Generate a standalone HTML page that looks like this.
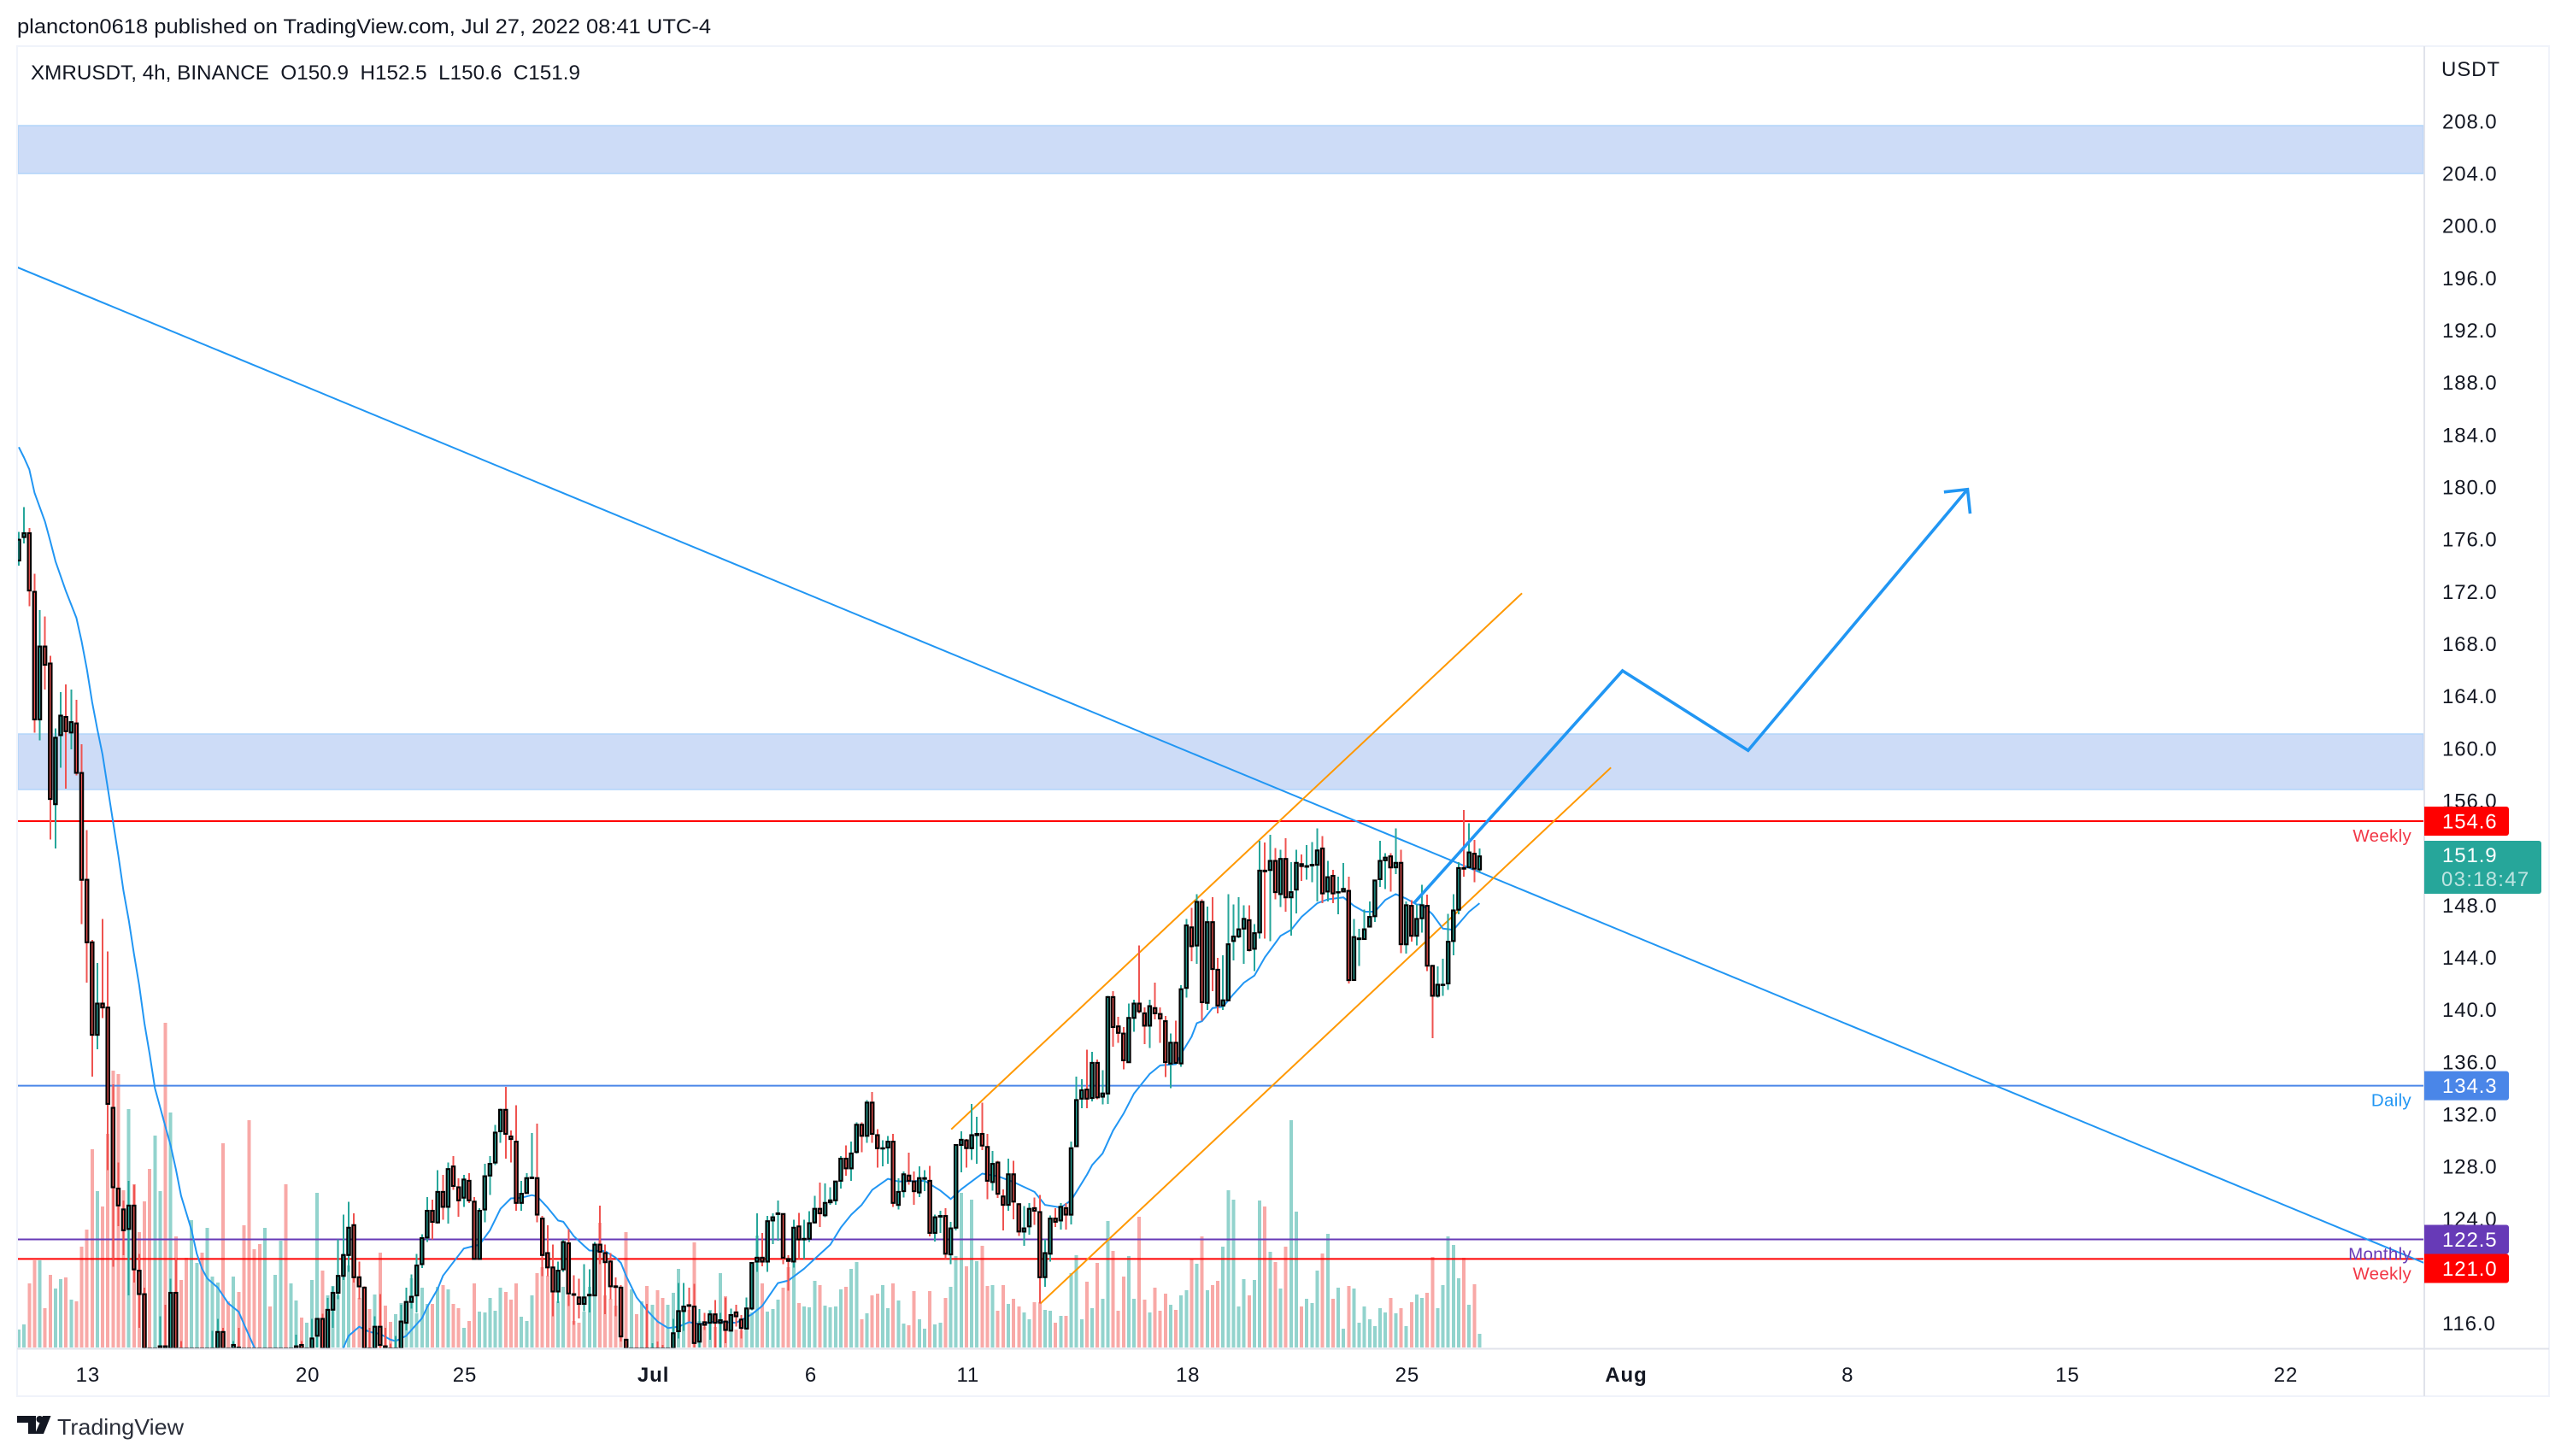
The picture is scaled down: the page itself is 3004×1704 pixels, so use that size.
<!DOCTYPE html>
<html lang="en">
<head>
<meta charset="utf-8">
<title>XMRUSDT 4h chart</title>
<style>
html,body{margin:0;padding:0;background:#fff;}
body{width:3004px;height:1704px;overflow:hidden;}
svg{display:block;font-family:"Liberation Sans",sans-serif;}
.tick{font-size:24px;letter-spacing:.9px;fill:#131722;}
.note{font-size:20.5px;letter-spacing:.3px;}
.chip{font-size:24px;letter-spacing:.9px;fill:#fff;}
</style>
</head>
<body>
<svg id="chart" xmlns="http://www.w3.org/2000/svg" width="3004" height="1704" viewBox="0 0 3004 1704">
  <defs>
    <clipPath id="pane"><rect x="21" y="55" width="2815" height="1523"/></clipPath>
  </defs>
  <rect x="0" y="0" width="3004" height="1704" fill="#ffffff"/>
  <text x="20" y="39" font-size="24" fill="#131722" textLength="812" lengthAdjust="spacingAndGlyphs">plancton0618 published on TradingView.com, Jul 27, 2022 08:41 UTC-4</text>
  <g id="pane-layer" clip-path="url(#pane)"></g>
  <rect x="20" y="54" width="2963" height="1580" fill="none" stroke="#f0f3fa" stroke-width="2"/>
  <line x1="2837" y1="54" x2="2837" y2="1634" stroke="#e0e3eb" stroke-width="2"/>
  <line x1="20" y1="1578.5" x2="2983" y2="1578.5" stroke="#e0e3eb" stroke-width="2"/>
  <text x="36" y="93" font-size="24" fill="#131722" textLength="643" lengthAdjust="spacingAndGlyphs" xml:space="preserve">XMRUSDT, 4h, BINANCE  O150.9  H152.5  L150.6  C151.9</text>
  <text class="tick" x="2857" y="89">USDT</text>
  <g id="price-ticks"></g>
  <g id="time-ticks"></g>
  <g id="level-notes"></g>
  <g id="level-chips"></g>
  <g id="last-price">
    <path d="M2837 984H2971a3 3 0 0 1 3 3V1043a3 3 0 0 1-3 3H2837Z" fill="#26a69a"/>
    <text class="chip" x="2858" y="1009">151.9</text>
    <text class="chip" x="2857" y="1037" fill-opacity="0.7" style="fill:#fff;letter-spacing:1.25px">03:18:47</text>
  </g>
  <g>
    <path d="M20 1657H42V1678H33V1665H20Z" fill="#131722"/>
    <circle cx="46.5" cy="1661" r="4" fill="#131722"/>
    <path d="M50 1657H59.5L51 1678H41Z" fill="#131722"/>
    <text x="67" y="1679" font-size="26" fill="#2a2e39" textLength="148" lengthAdjust="spacingAndGlyphs">TradingView</text>
  </g>
</svg>
<script>
const opens = [
174.6,176.4,176.7,172.2,162.4,168.0,166.7,155.9,161.2,162.6,
161.4,162.1,158.3,150.1,145.3,138.2,140.6,140.3,132.6,126.4,
124.8,123.3,125.1,120.1,118.3,113,110.5,112.5,114.3,112,
118.4,112,109,107,108.5,109.5,108,110,113,115.4,
112,110,114.2,110,107,103,101,100,102.5,101.5,
104,107,104,108,114.4,111,112,115.1,116.4,113,
117.1,118.4,119.7,121.3,123.6,119.6,118.8,113.5,112,115.8,
114.3,113,112,113.5,116.1,117.7,118.2,120.6,122.65,124.7,
123.8,126.15,125.0,128.1,126.5,125.7,127.0,125.4,121.0,124.8,
127.4,128.4,130.8,132.45,130.4,130.0,125.3,126.05,127.2,127.2,
124.1,121.45,120.35,118.5,120.2,122.2,118.3,118.05,117.55,118.2,
118.2,122.1,121.45,120.8,118.9,118.8,114.8,112.5,113.5,112,
113.5,112,113.5,112.5,111.5,113,115.45,117.0,117.45,117.35,
114.65,116.15,116.1,116.75,116.1,116.2,115.5,116.9,116.35,115.65,
117.2,120.8,121.1,120.8,123.95,124.45,124.45,121,120.8,123.5,
122.5,122.55,123.8,124.85,124.35,125.35,125.5,127,128.7,127.95,
129.2,131.3,130.45,133.0,130.5,129.5,129.55,130,125.15,126.2,
127.4,126.95,126.1,127.15,127,123,124.25,124.3,121.35,123.4,
129.75,130.1,129.5,130.5,130.6,129.6,126.9,128.4,125.8,125.15,
127.5,125.2,123.1,123.5,124.9,124.6,119.6,121.4,124.1,123.95,
124.9,124.4,129.65,133.3,134,133.35,136.05,133.45,133.7,141.1,
138.85,138.3,136.1,139.5,140.6,139.85,138.9,140.25,139.8,139.25,
136,137.6,136,141.8,146.45,145.05,148.4,140.65,146.85,143.2,
140.45,140.85,145.4,145.75,146.35,147,144.8,146.05,150.8,150.85,
151.55,149,151.7,148.75,149.35,151.3,151.1,151.2,151.25,152.5,
149.2,150.4,149.15,149.2,149.25,142.4,145.55,145.55,146.5,147.3,
150.15,151.6,151.9,151.05,151.4,145.15,148.1,145.8,147.15,148.1,
143.5,141.2,142.05,142.15,145.4,147.8,151,151.05,152.1,150.9
];
const highs = [
176.8,178.7,177.1,173.6,170.8,170.3,167.3,161.7,164.5,165.1,
164.7,163.9,160.5,153.9,145.5,143.7,147.1,144.6,134.4,128.4,
125.5,127.0,126.7,121.4,118.8,113.5,113.2,116.6,117.5,119.5,
121.1,114.7,110,110,111,110.5,111.5,115.5,116.4,115.7,
113,114.7,115.7,111,108,104,102,103.5,103.5,105,
108,108,110,115.2,114.7,113.5,116.4,116.4,116.8,118,
118.9,122.5,124.4,125.4,124.5,120.8,118.9,115.7,116.6,118.3,
115.7,114.5,115.1,117.5,118.8,119.8,121.4,122.9,125.75,125.55,
127.8,127.45,128.4,128.9,127.2,127.45,127.6,125.75,124.9,128.3,
128.9,131.3,132.55,134.2,130.85,132.8,127,127.6,130.65,131.4,
124.3,123.6,122.1,120.8,122.5,123.3,119.75,119.5,120.6,120.2,
122.3,125.1,122.1,121.45,119.6,119,114.8,114,114,114,
117.55,114.55,114.65,114.4,113.8,116.4,119.15,119.15,118.8,119.1,
117.15,116.85,117,117.85,116.85,118.05,117.2,117.5,116.7,118.05,
120.7,124.5,123,124.3,124.5,125.5,124.5,121.3,124,124.55,
124,124.65,125.85,126.85,126.8,126.5,126.95,128.9,129.7,130,
131.5,131.5,133.2,133.8,130.95,130.1,130.45,130.6,127.2,127.7,
129.15,127.7,128.1,127.8,128.15,124.4,124.7,124.9,123.85,129.75,
130.8,130.2,132.9,131.9,133,130.6,129.3,128.55,126.35,128.7,
128.55,125.3,125.05,125.3,125.7,125.9,122.5,124.35,124.9,125.3,
125.3,130,135,134.8,137.07,136.9,136.3,135.5,141.2,141.55,
139.6,138.8,140.6,140.9,145.05,140.3,140.9,142.2,140.3,139.65,
138.3,139.3,142,147.1,147.95,149,148.6,148.05,148.75,144.1,
144.3,149,148.2,148.75,148.15,148.15,146.7,153.1,152.95,153.55,
152.55,152.4,153.3,151.45,152.4,152.05,152.75,153,154.05,153.45,
151.55,150.85,150.35,151.4,150.35,147.1,146.35,147.8,148.45,150.05,
153.1,152.15,152.15,154.05,152.4,148.45,148.55,148.2,149.7,148.95,
143.5,143.45,144.05,147.5,149,151.45,155.45,154.45,153.15,152.5
];
const lows = [
174.2,175.9,171.1,161.4,160.8,164.7,153.2,152.5,158.7,157.1,
160.1,158.1,146.7,142.2,135.0,137.1,139.5,127.8,120.4,123.5,
121.3,118.2,119.2,115.7,108,108.5,109,111,110,111,
110.5,107,105,106,107.5,106.5,107,109,112,111,
109,109,108,105,100,99,98.5,99.5,100.5,101,
103,103,103.5,107,110,110,111,114.2,112,112.5,
115.7,117.9,119.4,120,119.2,117.9,112.5,111,111.5,114,
112,111,111.5,113,115.5,117.2,116.9,120.3,122.3,122.5,
123.7,124,123.7,126.3,124.25,125,125.3,121,121,123.8,
125.9,128.2,129.9,128.7,128.4,124.7,124.7,126,127.15,123.8,
119.7,119.7,116.6,117.6,120,117.4,115.95,116.45,117,116.9,
118.2,120.6,116.75,117.9,116.6,114.65,112,112,111,111.5,
111,111.5,112,111,111,112.5,114.9,115.5,116.2,114.2,
114.2,115.55,114.8,114.2,114.2,114.55,115.4,115.8,114.9,115.65,
117.05,120,120.45,120,122.15,122.4,120.6,118.55,120.35,121,
121,122.3,123.7,123.45,124.2,125.15,125.15,126.4,127.4,127,
129.1,129.2,129.9,129.9,128,128.1,128.3,125,124.8,125.7,
126.7,125.15,125.75,126.2,122.75,122.35,123,121,120.6,123.2,
127.65,128,128.6,128.3,129.35,125.6,126.25,125.7,123.2,124.7,
124.05,122.75,122,122.85,123.6,117.6,118.85,120.8,123.45,123.25,
123.25,123.65,129.6,132.55,132.55,133.1,133.25,132.85,132.9,137.3,
137.6,135.55,136.1,138.45,139.85,137.5,137.2,139.4,137.6,134.95,
134.1,136,135.75,141.05,143.85,143.65,139.3,140.1,141.55,139.85,
140.1,140.8,143.9,145.6,143.65,144.6,143.1,145.6,145.6,145.4,
148.6,148,147.65,145.8,147.5,150,150.1,149.9,148.45,148.3,
148.45,148.3,147.45,149.2,142.15,142.4,143.5,145.5,146.5,146.85,
149.55,149.4,149.2,150.55,144.45,144.45,145.35,145.05,146.05,143.1,
137.95,141.05,141.2,141.65,144.3,147.45,150.35,151,149.9,150.65
];
const closes = [
176.2,176.7,172.3,162.4,168.0,166.6,156.3,161.0,162.7,161.5,
162.2,158.3,150.1,145.3,138.2,140.6,140.3,132.9,126.5,125.1,
123.2,125.1,120.2,118.3,113.0,110.5,112.5,114.3,112,118.4,
112,109,107,108.5,109.5,108,110,113,115.4,112,
110,114.4,110,107,103,101,100,102.5,101.5,104,
107,104,108,114.3,111,112,114.9,116.4,113,117.1,
118.4,119.7,121.3,123.4,119.6,118.9,113.5,112,115.8,114.4,
113,112,113.5,116.2,117.7,118.1,120.5,122.6,124.7,123.85,
126.15,125.0,127.9,126.6,125.5,127.1,125.5,121.0,124.7,127.35,
128.3,130.7,132.45,130.6,130.2,125.3,126.0,127.2,127.25,124.4,
121.3,120.35,118.5,120.1,122.3,118.35,118.25,117.55,118.05,118.25,
122.1,121.55,120.75,118.9,118.85,115.05,112.5,113.5,112,113.5,
112,113.5,112.5,111.5,113,115.3,117.0,117.35,117.4,114.55,
116.0,115.95,116.75,116.1,116.3,115.55,116.7,116.6,115.7,117.2,
120.7,121.1,120.8,123.9,124.2,124.5,121.1,120.85,123.4,122.5,
122.55,123.75,124.85,124.5,125.3,125.5,126.95,128.7,127.95,129.1,
131.3,130.45,133.0,130.6,129.5,129.5,130.0,125.3,126.15,127.5,
127.0,126.2,127.2,127.2,123,124.2,124.3,121.4,123.35,129.75,
130.15,129.5,130.5,130.6,129.7,127,128.3,126,125.15,127.5,
125.4,123.1,123.35,124.85,124.7,119.6,121.45,124.1,123.85,125,
124.4,129.5,133.2,133.95,133.3,136.05,133.4,133.7,141.1,138.8,
138.35,136.25,139.5,140.6,140.0,138.9,140.4,139.85,139.45,136.1,
137.6,136.05,141.7,146.6,145,148.4,140.7,146.85,143.25,140.45,
140.85,145.15,145.75,146.3,147.1,144.7,146,150.8,150.75,151.55,
149.15,151.7,148.75,149.15,151.4,151.15,151.15,151.25,152.35,149.05,
150.3,149.05,149.15,149.4,142.4,145.7,145.6,146.3,147.25,150.05,
151.55,151.8,151.05,151.4,145.15,148.15,145.8,147.1,148.15,143.5,
141.2,142.05,142.05,145.35,147.75,151.0,150.95,152.2,150.95,151.9
];
const volumes = [
21,27,75,102,102,46,85,69,80,82,
56,54,118,138,232,183,165,250,324,320,
184,279,191,135,171,209,248,183,380,275,
130,79,105,149,99,111,140,83,76,239,
54,83,65,143,266,115,121,140,48,85,
125,191,75,55,35,29,79,181,90,61,
72,61,110,96,83,58,70,45,62,111,
49,30,39,52,52,81,40,70,51,51,
71,73,68,51,46,23,31,75,42,41,
58,43,70,65,56,75,36,31,61,87,
94,84,67,54,71,61,31,29,42,71,
94,146,61,57,49,40,135,68,39,54,
72,50,67,58,50,64,92,44,44,123,
31,24,44,24,87,60,19,21,20,44,
41,131,75,42,45,56,70,94,99,52,
48,47,78,73,49,47,48,68,71,92,
100,33,40,61,63,73,46,75,55,28,
26,66,33,22,66,27,29,58,71,107,
181,95,173,101,119,72,73,43,73,51,
57,48,41,33,53,53,44,43,29,37,
37,87,108,33,77,46,99,57,148,113,
43,83,107,57,153,56,41,70,43,63,
50,44,61,67,103,98,130,67,73,78,
118,184,173,48,80,61,79,172,165,112,
100,69,118,266,159,48,57,52,90,110,
133,57,70,22,72,69,29,48,33,25,
46,41,58,40,46,25,53,62,58,64,
106,46,73,130,120,81,105,50,74,16
];
const maBars = [0,1,2,3,5,6,7,9,11,12,13,14,15,16,17,18,19,20,21,22,23,24,25,26,28,29,30,31,33,34,35,36,38,40,42,43,45,48,52,56,60,62,63,65,67,69,71,72,74,75,77,78,80,81,83,85,87,88,90,92,94,96,98,99,101,103,104,106,108,109,112,114,115,116,118,120,122,124,126,128,130,133,137,140,142,145,147,150,152,155,157,159,161,163,166,168,173,176,178,180,184,187,190,194,196,199,201,204,205,207,209,211,213,216,218,221,222,224,225,226,228,230,232,234,236,238,240,241,243,245,248,250,253,255,257,259,261,263,265,267,268,270,272,274,277,279];
const maValues = [183.3,182.5,181.6,179.8,177.6,176.1,174.55,172.25,170.2,168.4,166.25,163.75,161.65,159.7,157.1,154.55,152,149.25,147,144.4,142,139.1,136.7,134.1,131.15,129.7,127.9,125.85,123.2,121.4,120.25,119.5,118.8,117.6,116.95,116,114.2,111,108,109,112,114.2,115.1,115.8,115.4,115.25,114.8,114.7,115.1,115.55,116.45,117.3,118.7,119.7,120.75,121.8,122,122.1,123.2,124.85,125.65,125.7,125.9,125.8,124.95,123.95,123.85,122.75,122,121.65,121.6,121.1,120.7,119.7,118.05,117.05,116.2,115.7,115.8,116.15,116,116.2,116.1,116.75,117.4,119.15,119.35,120.25,121,122.1,123.4,124.4,125.15,126.3,127.15,126.95,127,126.25,125.6,126.35,127.55,127.35,126.9,126.15,125.15,124.95,125.5,127.45,128.2,129.1,130.85,132.15,133.7,135.2,135.85,135.95,136.74,138.05,139.1,139.25,140.25,140.35,141.33,142.2,142.75,144.15,145.25,145.8,146.25,147.25,148.3,148.6,148.75,148.1,147.65,147.65,148.55,149,148.65,148.2,148.2,147.45,146.35,146.25,147.65,148.3];
const priceTicks = [208,204,200,196,192,188,184,180,176,172,168,164,160,156,152,148,144,140,136,132,128,124,120,116];
const timeTickLabels = ["13","20","25","Jul","6","11","18","25","Aug","8","15","22"];
const timeTickBars = [13.2,55.2,85.2,121.2,151.3,181.3,223.3,265.2,307,349.3,391.3,433];
const levelPrices = [154.6,134.3,122.5,121.0];
const levelNames = ["Weekly","Daily","Monthly","Weekly"];
const zoneTops = [207.98,161.29];
const zoneBottoms = [204.3,157.03];
const trendBars = [-0.33,459.4];
const trendPrices = [197.11,120.7];
const channelUpperBars = [178.1,287.1];
const channelUpperPrices = [130.95,172.09];
const channelLowerBars = [195.1,304.1];
const channelLowerPrices = [117.57,158.71];
const projectionBars = [266.5,306.3,330.3,372.2];
const projectionPrices = [148.32,166.14,160.02,180.06];
const arrowHeadBars = [367.7,372.2,372.7];
const arrowHeadPrices = [179.86,180.06,178.2];

const SVGNS = 'http://www.w3.org/2000/svg';
const GREEN = '#26a69a', RED = '#ef5350';
const PANE_BOTTOM = 1578;
const levelColors = ['#ff0000','#4a86e8','#673ab7','#ff0000'];
const noteColors = ['#f23645','#2196f3','#673ab7','#f23645'];
function xOf(bar){ return 22 + bar * 6.127; }
function yOf(price){ return 961 + (154.6 - price) * 15.25; }
function paneY(price){ return Math.min(yOf(price), PANE_BOTTOM); }
function tickY(price){ return 1548.5 - (price - 116) * 15.29; }
function volH(v){ return v * 1; }
function mk(tag, parent){ const e = document.createElementNS(SVGNS, tag); parent.appendChild(e); return e; }
function set(e, o){ for (const k in o) e.setAttribute(k, o[k]); return e; }
function pts(bars, prices){ return bars.map(function(b,i){ return xOf(b).toFixed(1)+','+yOf(prices[i]).toFixed(1); }).join(' '); }
const pane = document.getElementById('pane-layer');

opens.forEach(function(o,i){
  const up = closes[i] >= o;
  const bar = mk('rect', pane);
  
  
  set(bar, {x:(xOf(i)-2).toFixed(1), y:(1577-volH(volumes[i])).toFixed(1), width:4, height:volH(volumes[i]), fill: up ? '#92d3cd' : '#f8a9a7', 'shape-rendering':'crispEdges'});
});

zoneTops.forEach(function(t,i){
  const z = mk('rect', pane);
  
  
  set(z, {x:21, y:yOf(t).toFixed(1), width:2815, height:(yOf(zoneBottoms[i])-yOf(t)).toFixed(1), fill:'#cddcf7', stroke:'#b2d5fa', 'stroke-width':1.5});
});

levelPrices.forEach(function(p,i){
  const l = mk('line', pane);
  
  
  set(l, {x1:21, x2:2836, y1:yOf(p).toFixed(1), y2:yOf(p).toFixed(1), stroke:levelColors[i], 'stroke-width':2});
});

const trend = mk('polyline', pane);


set(trend, {points:pts(trendBars,trendPrices), fill:'none', stroke:'#2196f3', 'stroke-width':2});

const chU = mk('polyline', pane);


set(chU, {points:pts(channelUpperBars,channelUpperPrices), fill:'none', stroke:'#ff9800', 'stroke-width':2});

const chL = mk('polyline', pane);


set(chL, {points:pts(channelLowerBars,channelLowerPrices), fill:'none', stroke:'#ff9800', 'stroke-width':2});

const ma = mk('polyline', pane);


set(ma, {points:pts(maBars,maValues), fill:'none', stroke:'#2196f3', 'stroke-width':2, 'stroke-linejoin':'round'});

opens.forEach(function(o,i){
  const up = closes[i] >= o;
  const col = up ? GREEN : RED;
  const cx = xOf(i);
  const wick = mk('rect', pane);
  
  
  set(wick, {x:(cx-1).toFixed(1), y:paneY(highs[i]).toFixed(1), width:2, height:(paneY(lows[i])-paneY(highs[i])).toFixed(1), fill:col, 'shape-rendering':'crispEdges'});
  const top = paneY(Math.max(o,closes[i])), bot = paneY(Math.min(o,closes[i]));
  const body = mk('rect', pane);
  
  
  set(body, {x:(cx-1.7).toFixed(1), y:top.toFixed(1), width:3.4, height:Math.max(bot-top,0.4).toFixed(1), fill:col, stroke:'#000000', 'stroke-width':2.1});
});

const proj = mk('polyline', pane);


set(proj, {points:pts(projectionBars,projectionPrices), fill:'none', stroke:'#2196f3', 'stroke-width':3.6, 'stroke-linejoin':'miter'});

const head = mk('polyline', pane);


set(head, {points:pts(arrowHeadBars,arrowHeadPrices), fill:'none', stroke:'#2196f3', 'stroke-width':3.6});

const pt = document.getElementById('price-ticks');
priceTicks.forEach(function(t){
  const e = mk('text', pt);
  
  
  set(e, {x:2858, y:(tickY(t)+8.6).toFixed(1), class:'tick'});
  e.textContent = t.toFixed(1);
});

const tt = document.getElementById('time-ticks');
timeTickLabels.forEach(function(t,i){
  const e = mk('text', tt);
  
  
  set(e, {x:xOf(timeTickBars[i]).toFixed(1), y:1617, class:'tick', 'text-anchor':'middle'});
  if (t === 'Jul' || t === 'Aug') e.setAttribute('font-weight', 'bold');
  e.textContent = t;
});

const notes = document.getElementById('level-notes');
const chips = document.getElementById('level-chips');
let prevBottom = 0;
levelPrices.forEach(function(p,i){
  const n = mk('text', notes);
  
  
  set(n, {x:2822, y:(yOf(p)+24).toFixed(1), class:'note', 'text-anchor':'end', fill:noteColors[i]});
  n.textContent = levelNames[i];
  const top = Math.max(yOf(p)-17, prevBottom);
  prevBottom = top + 34;
  const bg = mk('path', chips);
  
  
  set(bg, {d:'M2837 '+top+'H2933a3 3 0 0 1 3 3V'+(top+31)+'a3 3 0 0 1-3 3H2837Z', fill:levelColors[i]});
  const lab = mk('text', chips);
  
  
  set(lab, {x:2858, y:(top+25.5).toFixed(1), class:'chip'});
  lab.textContent = p.toFixed(1);
});
</script>
</body>
</html>
